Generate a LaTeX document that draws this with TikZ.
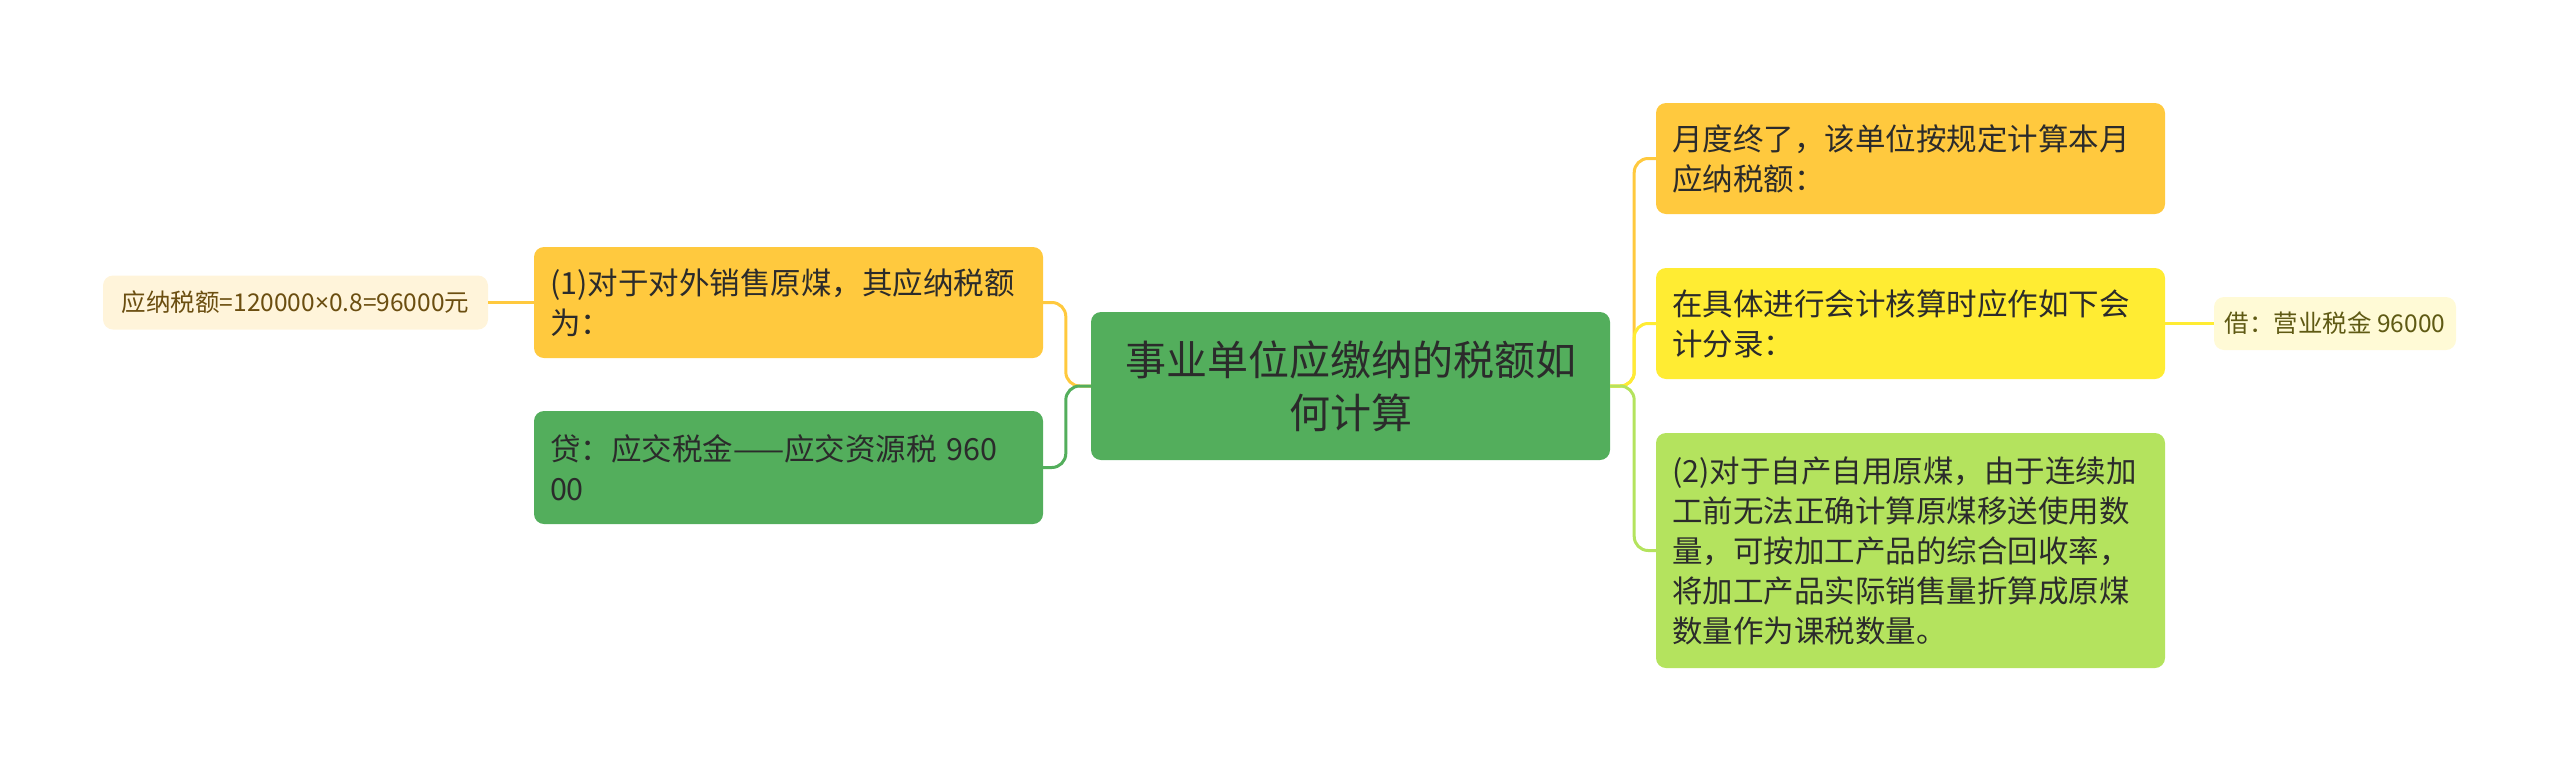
\documentclass[tikz,border=0pt]{standalone}
\usepackage{fontspec}
\newfontfamily\cjk{Noto Sans CJK SC}
\newfontfamily\lat{Noto Sans}
\definecolor{cgreen}{HTML}{53AE5C}
\definecolor{corange}{HTML}{FFC93E}
\definecolor{cyellow}{HTML}{FFEC33}
\definecolor{clime}{HTML}{B4E35E}
\definecolor{ccreamL}{HTML}{FFF4DA}
\definecolor{ccreamR}{HTML}{FFFAD6}
\definecolor{ctext}{HTML}{2B2B2B}
\definecolor{cbrown}{HTML}{6B4E10}
\definecolor{colive}{HTML}{5F5A14}
\tikzset{
  box/.style={rectangle, rounded corners=10pt, inner xsep=16pt, inner ysep=0pt,
    text width=477pt, align=left, minimum height=#1, text=ctext,
    font=\cjk\fontsize{30.5}{40}\selectfont},
  rootbox/.style={rectangle, rounded corners=10pt, inner sep=0pt, fill=cgreen,
    minimum width=519pt, minimum height=148pt, align=center, text=ctext,
    font=\cjk\fontsize{41}{53}\selectfont},
  leafbox/.style={rectangle, rounded corners=10pt, inner sep=0pt, align=center,
    font=\cjk\fontsize{24.5}{30}\selectfont},
  conn/.style={line width=3pt, rounded corners=14pt}
}
\begin{document}
\begin{tikzpicture}[x=1pt,y=-1pt]
\useasboundingbox (0,0) rectangle (2560,772);
% nodes
\node[rootbox] (root) at (1350.5,386) {事业单位应缴纳的税额如\\何计算};
\node[box=111pt, fill=corange] (n1) at (788.5,302.5) {(1)对于对外销售原煤，其应纳税额\\为：};
\node[box=113pt, fill=cgreen] (n2) at (788.5,467.5) {贷：应交税金——应交资源税 960\\00};
\node[leafbox, fill=ccreamL, text=cbrown, minimum width=385pt, minimum height=54pt] (lf1) at (295.5,302.5) {应纳税额=120000{\lat ×}0.8=96000元};
\node[box=111pt, fill=corange] (r1) at (1910.5,158.5) {月度终了，该单位按规定计算本月\\应纳税额：};
\node[box=111pt, fill=cyellow] (r2) at (1910.5,323.5) {在具体进行会计核算时应作如下会\\计分录：};
\node[box=235pt, fill=clime] (r3) at (1910.5,550.5) {(2)对于自产自用原煤，由于连续加\\工前无法正确计算原煤移送使用数\\量，可按加工产品的综合回收率，\\将加工产品实际销售量折算成原煤\\数量作为课税数量。};
\node[leafbox, fill=ccreamR, text=colive, minimum width=242pt, minimum height=53pt] (lf2) at (2335,323.5) {借：营业税金 96000};
% connectors
\begin{scope}[on background layer/.try]
\draw[conn, draw=corange] (root.west) -- ++(-25,0) |- (n1.east);
\draw[conn, draw=cgreen] (root.west) -- ++(-25,0) |- (n2.east);
\draw[conn, draw=corange] (root.east) -- ++(24,0) |- (r1.west);
\draw[conn, draw=cyellow] (root.east) -- ++(24,0) |- (r2.west);
\draw[conn, draw=clime] (root.east) -- ++(24,0) |- (r3.west);
\draw[line width=3pt, draw=corange] (n1.west) -- (lf1.east);
\draw[line width=3pt, draw=cyellow] (r2.east) -- (lf2.west);
\end{scope}
\end{tikzpicture}
\end{document}
